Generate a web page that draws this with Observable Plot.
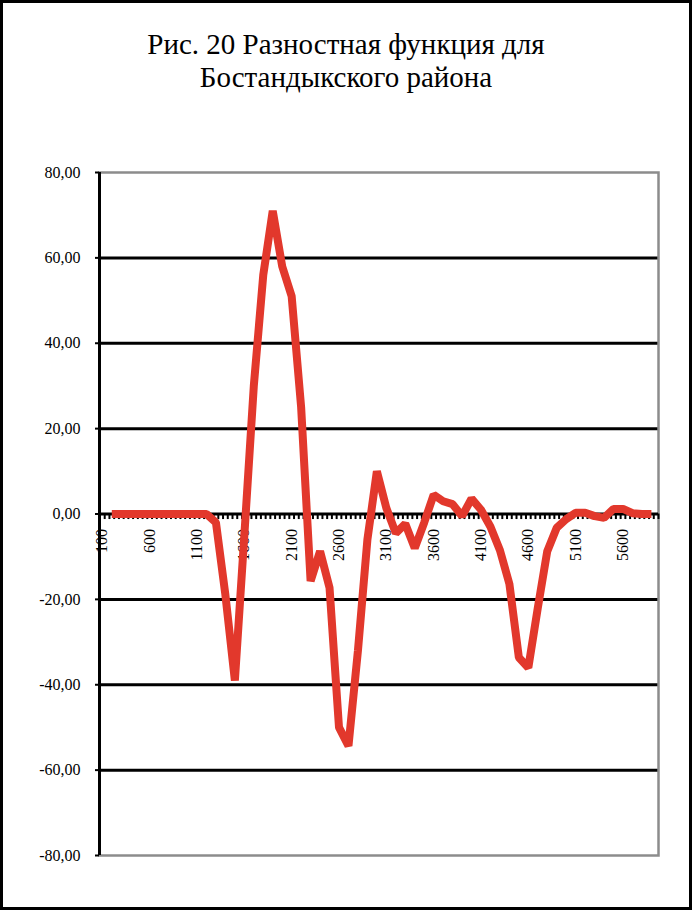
<!DOCTYPE html>
<html><head><meta charset="utf-8">
<script src="https://cdn.jsdelivr.net/npm/d3@7"></script>
<script src="https://cdn.jsdelivr.net/npm/@observablehq/plot@0.6"></script>
<style>
body{margin:0;background:#fff}
#wrap{position:relative;width:692px;height:910px;box-sizing:border-box;border:3px solid #000;background:#fff;overflow:hidden}
#chart{position:absolute;left:0;top:0}
</style></head><body>
<div id="wrap"><div id="chart"></div><div id="title" style="position:absolute;left:0;top:25px;width:686px;text-align:center;font-family:'Liberation Serif','Times New Roman',serif;font-size:29px;line-height:33px;color:#000"></div></div>
<script>
const titleLines = ["Рис. 20 Разностная функция для", "Бостандыкского района"];
const xValues = [200,300,400,500,600,700,800,900,1000,1100,1200,1300,1400,1500,1600,1700,1800,1900,2000,2100,2200,2300,2400,2500,2600,2700,2800,2900,3000,3100,3200,3300,3400,3500,3600,3700,3800,3900,4000,4100,4200,4300,4400,4500,4600,4700,4800,4900,5000,5100,5200,5300,5400,5500,5600,5700,5800,5900];
const yValues = [0,0,0,0,0,0,0,0,0,0,0,-2,-19,-39,-5,30,56,71,58,51,25,-15.7,-8.7,-17.3,-50,-54.3,-32,-6,10,1.4,-4.5,-2.3,-8,-2,4.5,3,2.3,-0.5,3.6,1,-3,-8.5,-16.4,-33.6,-36,-22,-8.7,-3.2,-1.2,0.3,0.3,-0.5,-0.9,1.2,1.2,0.2,0,0];
const yTicks = [-80,-60,-40,-20,0,20,40,60,80];
const gridValues = [-60,-40,-20,20,40,60];
const xTickLabels = [100,600,1100,1600,2100,2600,3100,3600,4100,4600,5100,5600];
const xDomain = [70, 5975];
const xTickMarks = d3.range(75, 5976, 50);

const titleEl = document.getElementById("title");
titleLines.forEach((t, i) => {
  const s = document.createElement("div");
  s.textContent = t;
  titleEl.appendChild(s);
});
const data = xValues.map((x, i) => ({x, y: yValues[i]}));

const chart = Plot.plot({
  width: 686, height: 904,
  marginLeft: 96, marginRight: 31, marginTop: 169, marginBottom: 52,
  x: {domain: xDomain, axis: null},
  y: {domain: [-80, 80], axis: null},
  style: {fontFamily: "'Liberation Serif','Times New Roman',serif", fontSize: "16px", background: "transparent", color: "#000"},
  marks: [
    Plot.ruleY(gridValues, {stroke: "#000", strokeWidth: 3}),
    Plot.frame({stroke: "#8c8c8c", strokeWidth: 2.5}),
    Plot.ruleY([0], {stroke: "#000", strokeWidth: 3}),
    Plot.ruleX(xTickMarks, {x: d => d, y1: 0, y2: -1.3, stroke: "#000", strokeWidth: 2}),
    Plot.ruleX([xDomain[0]], {stroke: "#000", strokeWidth: 3}),
    Plot.axisY({ticks: yTicks, label: null, tickFormat: d => d.toFixed(2).replace(".", ","), tickSize: 4, tickPadding: 15, fontSize: 16, stroke: "#000", strokeWidth: 2}),
    Plot.text(xTickLabels, {x: d => d, y: 0, text: d => String(d), rotate: -90, textAnchor: "end", dy: 15, fontSize: 16, fill: "#000"}),
    Plot.line(data, {x: "x", y: "y", stroke: "#E2382C", strokeWidth: 8, strokeLinejoin: "miter", strokeLinecap: "butt"})
  ]
});
document.getElementById("chart").appendChild(chart);
</script>
</body></html>
